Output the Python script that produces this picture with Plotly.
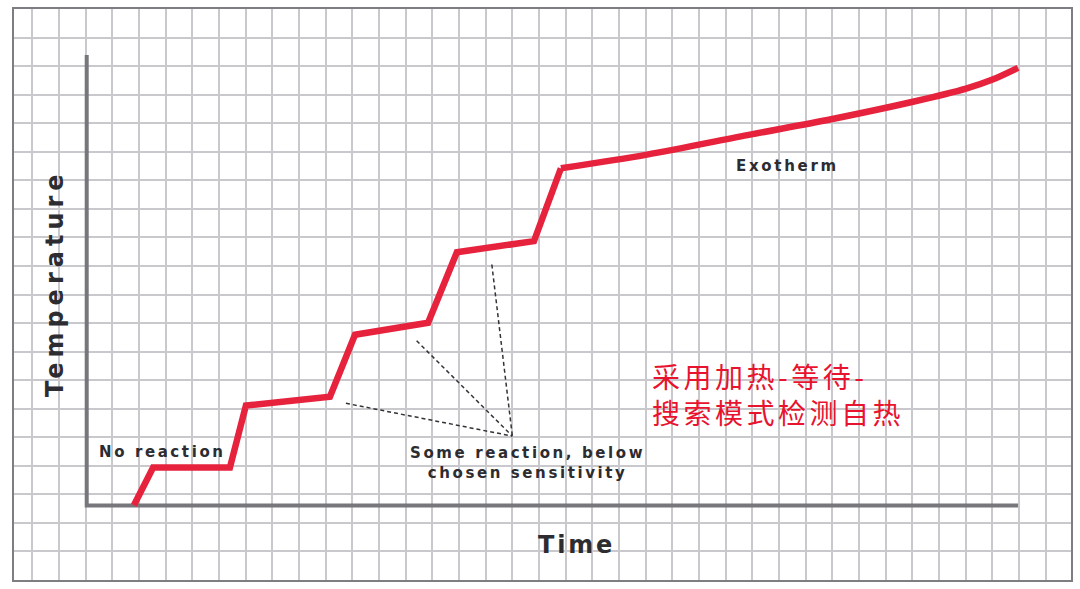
import plotly.graph_objects as go

# heat-wait-search curve, in grid units (x = time cells, y = temperature cells)
step_time = [3.81, 4.53, 7.41, 8.01, 11.16, 12.10, 14.84, 15.92, 18.81, 19.82]
step_temp = [2.62, 3.94, 3.94, 6.11, 6.42, 8.59, 9.01, 11.48, 11.87, 14.42]

exo_time = [19.82, 23.05, 26.91, 29.91, 33.02, 35.01, 35.98, 36.96]
exo_temp = [14.42, 14.90, 15.60, 16.13, 16.75, 17.21, 17.52, 17.94]

# dashed pointers from the label to the small reaction steps
pointer_time = [11.76, 14.41, 17.23]
pointer_temp = [6.19, 8.38, 11.05]
pointer_hub = (18.0, 5.04)

axis_origin = (2.04, 2.61)
axis_x_end = 36.96
axis_y_end = 18.39

RED = "#e6223d"
INK = "#2c2c31"
FONT = "DejaVu Sans"


def spaced(text, px):
    return f'<span style="letter-spacing:{px}px">{text}</span>'


fig = go.Figure()

# axes drawn inside the grid
fig.add_trace(go.Scatter(
    x=[axis_origin[0], axis_origin[0], axis_x_end],
    y=[axis_y_end, axis_origin[1], axis_origin[1]],
    mode="lines", line=dict(color="#77777b", width=4), hoverinfo="skip"))

for t, v in zip(pointer_time, pointer_temp):
    fig.add_trace(go.Scatter(
        x=[t, pointer_hub[0]], y=[v, pointer_hub[1]], mode="lines",
        line=dict(color="#333337", width=1.5, dash="4px,3px"), hoverinfo="skip"))

fig.add_trace(go.Scatter(x=step_time, y=step_temp, mode="lines",
                         line=dict(color=RED, width=6.5)))
fig.add_trace(go.Scatter(x=exo_time, y=exo_temp, mode="lines",
                         line=dict(color=RED, width=6.5, shape="spline", smoothing=0.8)))

fig.add_annotation(x=0.85, y=10.4, text=spaced("Temperature", 5), textangle=-90,
                   showarrow=False, font=dict(family=FONT, size=24, color=INK, weight="bold"))
fig.add_annotation(x=20.42, y=1.22, text=spaced("Time", 2.8), showarrow=False,
                   font=dict(family=FONT, size=24, color=INK, weight="bold"))
fig.add_annotation(x=2.43, y=4.5, text=spaced("No reaction", 2.6), showarrow=False,
                   xanchor="left", font=dict(family=FONT, size=15, color=INK, weight="bold"))
fig.add_annotation(x=18.55, y=4.1,
                   text=spaced("Some reaction, below", 2.6) + "<br>" + spaced("chosen sensitivity", 2.6),
                   showarrow=False, font=dict(family=FONT, size=15, color=INK, weight="bold"))
fig.add_annotation(x=28.32, y=14.49, text=spaced("Exotherm", 2.7), showarrow=False,
                   font=dict(family=FONT, size=15, color=INK, weight="bold"))
fig.add_annotation(x=23.15, y=6.52,
                   text=spaced("采用加热-等待-", 3.5) + "<br>" + spaced("搜索模式检测自热", 3.5),
                   showarrow=False, xanchor="left", align="left",
                   font=dict(family="Noto Sans CJK SC", size=28, color="#e8132f"))

fig.update_layout(
    width=1080, height=589,
    margin=dict(l=14, r=9, t=7, b=9),
    paper_bgcolor="white", plot_bgcolor="white",
    showlegend=False,
    xaxis=dict(range=[-0.686, 38.946], tick0=0, dtick=1, showticklabels=False,
               gridcolor="#c9c9cd", gridwidth=2, zeroline=False,
               showline=True, mirror=True, linecolor="#7e7e82", linewidth=2),
    yaxis=dict(range=[0, 20], tick0=0, dtick=1, showticklabels=False,
               gridcolor="#c9c9cd", gridwidth=2, zeroline=False,
               showline=True, mirror=True, linecolor="#7e7e82", linewidth=2),
)

fig.write_html("out.html", config={"displayModeBar": False},
               post_script="document.body.style.margin='0';")
